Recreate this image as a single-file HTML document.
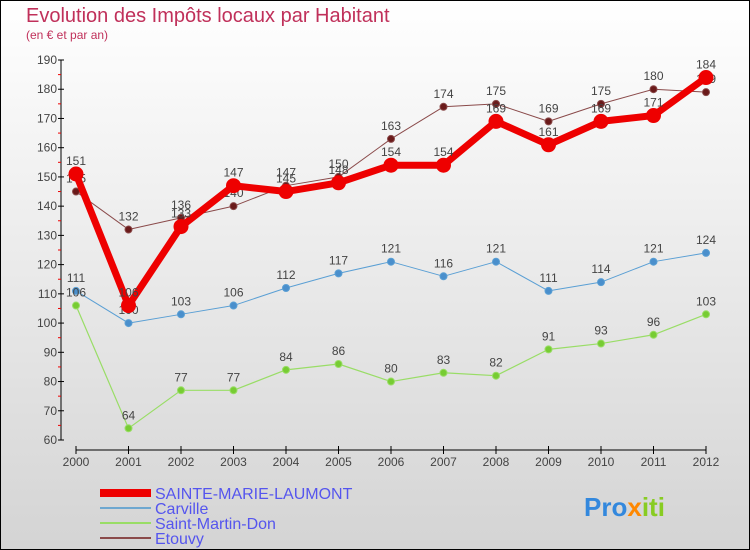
<!DOCTYPE html>
<html><head><meta charset="utf-8"><style>
body{margin:0}
#c{width:750px;height:550px;position:relative;overflow:hidden;box-sizing:border-box;border:1px solid #000;background:linear-gradient(#fff,#d4d4d4);font-family:"Liberation Sans","DejaVu Sans",sans-serif}
</style></head><body>
<div id="c">
<svg id="s" width="750" height="550" style="position:absolute;left:-1px;top:-1px">
<text x="26" y="22" font-size="20" fill="#c0305a">Evolution des Impôts locaux par Habitant</text>
<text x="26" y="39" font-size="12" fill="#c0305a">(en € et par an)</text>
<g id="ax"></g><g id="ser"></g>
<g font-size="16" fill="#5555ee">
<rect x="100" y="489" width="51" height="8" fill="#ee0000"/>
<text x="155" y="499">SAINTE-MARIE-LAUMONT</text>
<rect x="100" y="507" width="51" height="2" fill="#6fa8d0"/>
<text x="155" y="514">Carville</text>
<rect x="100" y="522" width="51" height="2" fill="#99dd66"/>
<text x="155" y="529">Saint-Martin-Don</text>
<rect x="100" y="537" width="51" height="2" fill="#8a4a4a"/>
<text x="155" y="544">Etouvy</text>
</g>
<g font-size="26" font-weight="bold">
<text x="584" y="516"><tspan fill="#3388dd">Pro</tspan><tspan fill="#ff8800">x</tspan><tspan fill="#88cc22">iti</tspan></text>
</g>
</svg>
</div>
<script>
const years=[2000,2001,2002,2003,2004,2005,2006,2007,2008,2009,2010,2011,2012];
const sml=[151,106,133,147,145,148,154,154,169,161,169,171,184];
const carville=[111,100,103,106,112,117,121,116,121,111,114,121,124];
const smd=[106,64,77,77,84,86,80,83,82,91,93,96,103];
const etouvy=[145,132,136,140,147,150,163,174,175,169,175,180,179];
const yTicks=[60,70,80,90,100,110,120,130,140,150,160,170,180,190];
const NS="http://www.w3.org/2000/svg";
const X=i=>76+i*52.5, Y=v=>60+(190-v)*380/130;
function mk(t,a,p){const e=document.createElementNS(NS,t);for(const k in a)e.setAttribute(k,a[k]);p.appendChild(e);return e;}
const ax=document.getElementById('ax'),ser=document.getElementById('ser');
let l=mk('line',{x1:61,y1:Y(190),x2:61,y2:Y(60),stroke:'#000'},ax);


l=mk('line',{x1:76,y1:450,x2:706,y2:450,stroke:'#000'},ax);


yTicks.forEach(v=>{
  mk('line',{x1:58,y1:Y(v),x2:64,y2:Y(v),stroke:'#000'},ax);
  if(v<190)mk('line',{x1:58,y1:Y(v+5),x2:61,y2:Y(v+5),stroke:'#e00'},ax);
  const t=mk('text',{x:57,y:Y(v)+4,'text-anchor':'end','font-size':12,fill:'#444'},ax);t.textContent=v;
  
  
});
years.forEach((yr,i)=>{
  mk('line',{x1:X(i),y1:446,x2:X(i),y2:454,stroke:'#000'},ax);
  const t=mk('text',{x:X(i),y:466,'text-anchor':'middle','font-size':12,fill:'#444'},ax);t.textContent=yr;
  
  
});
function series(d,name,col,w,r,dot){
  const g=mk('g',{},ser);
  
  
  const p=mk('polyline',{points:d.map((v,i)=>X(i)+','+Y(v)).join(' '),fill:'none',stroke:col,'stroke-width':w,'stroke-linejoin':'round'},g);
  
  
  d.forEach((v,i)=>{
    const c=mk('circle',{cx:X(i),cy:Y(v),r:r,fill:dot,stroke:col,'stroke-width':1},g);
    
    
    const t=mk('text',{x:X(i),y:Y(v)-9,'text-anchor':'middle','font-size':12,fill:'#444'},g);t.textContent=v;
    
    
  });
}
series(carville,'carville','#5a9fd4',1,3.5,'#4a8fcc');
series(smd,'saint-martin-don','#99dd66',1.2,3.5,'#77cc33');
series(etouvy,'etouvy','#8a4a4a',1,3.5,'#6a1a1a');
series(sml,'sainte-marie-laumont','#ee0000',7,7,'#ee0000');
</script>
</body></html>
